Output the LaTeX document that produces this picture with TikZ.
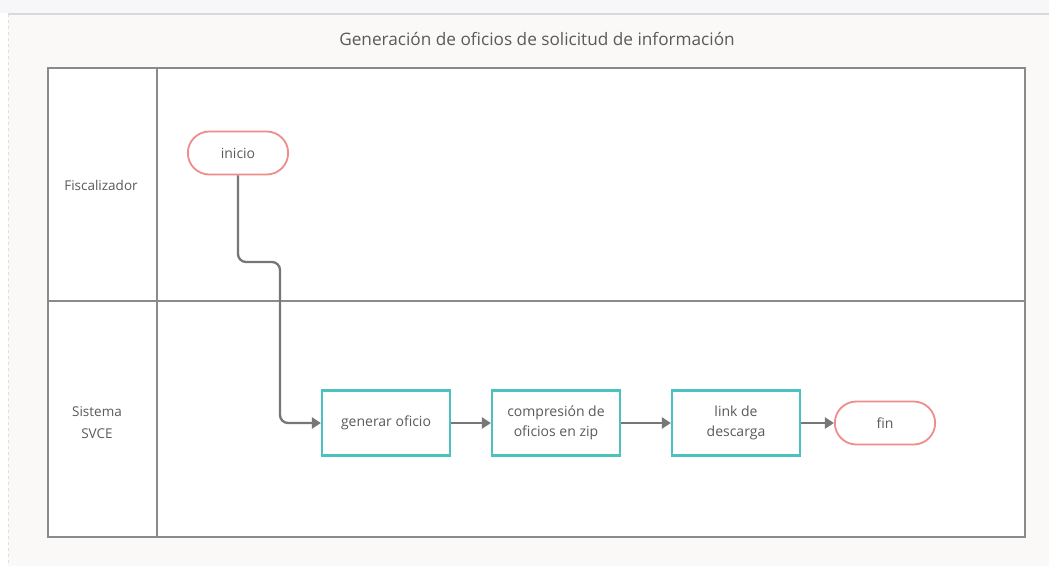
\documentclass[tikz,border=0pt]{standalone}
\usepackage{fontspec}
\setmainfont{Open Sans}
\usetikzlibrary{arrows.meta,shapes.misc}
\definecolor{lanegray}{HTML}{8A8A8A}
\definecolor{txtgray}{HTML}{5A5A5A}
\definecolor{termred}{HTML}{F08C8C}
\definecolor{procteal}{HTML}{4CC2C0}
\definecolor{arrgray}{HTML}{777777}
\definecolor{bgpanel}{HTML}{FAF9F8}
\definecolor{bgtop}{HTML}{F7F7F9}
\begin{document}
\begin{tikzpicture}[x=1pt,y=-1pt,
  lane/.style={draw=lanegray,line width=2pt},
  lanelabel/.style={text=txtgray,font=\fontsize{13.5}{22}\selectfont,align=center},
  terminal/.style={rounded rectangle,draw=termred,line width=1.8pt,fill=white,text=txtgray,
    minimum width=107pt,minimum height=43pt,font=\fontsize{14}{17}\selectfont},
  process/.style={rectangle,draw=procteal,line width=2.2pt,fill=white,text=txtgray,
    minimum width=128pt,minimum height=65pt,align=center,font=\fontsize{14}{20}\selectfont},
  flow/.style={draw=arrgray,line width=2.3pt,-{Triangle[length=9pt,width=11pt]}}
]
\useasboundingbox (0,0) rectangle (1049,566);
\fill[white] (0,0) rectangle (1049,566);
\fill[bgtop] (0,0) rectangle (1049,13);
\fill[bgpanel] (8,14) rectangle (1049,566);
\draw[gray!30,line width=1.5pt] (8,14) -- (1049,14);
\draw[gray!25,line width=0.8pt,dash pattern=on 3pt off 3pt] (8,14) -- (8,566);
% title
\node[text=txtgray,font=\fontsize{17.2}{20}\selectfont] (title) at (537,39) {Generación de oficios de solicitud de información};
% pool
\fill[white] (48,68) rectangle (1025,537);
\draw[lane] (48,68) rectangle (1025,537);
\draw[lane] (157,68) -- (157,537);
\draw[lane] (48,301) -- (1025,301);
\node[lanelabel] (lane1) at (101,185) {Fiscalizador};
\node[lanelabel] (lane2) at (97,423) {Sistema\\SVCE};
% nodes
\node[terminal] (inicio) at (238,153) {inicio};
\node[process] (gen) at (386,423) {generar oficio};
\node[process] (comp) at (556,423) {compresión de\\oficios en zip};
\node[process] (link) at (736,423) {link de\\descarga};
\node[terminal] (fin) at (885,423) {fin};
% connectors
\draw[flow,rounded corners=8pt] (inicio.south) -- (238,262) -- (280,262) -- (280,423) -- (gen.west);
\draw[flow] (gen.east) -- (comp.west);
\draw[flow] (comp.east) -- (link.west);
\draw[flow] (link.east) -- (fin.west);
\end{tikzpicture}
\end{document}
